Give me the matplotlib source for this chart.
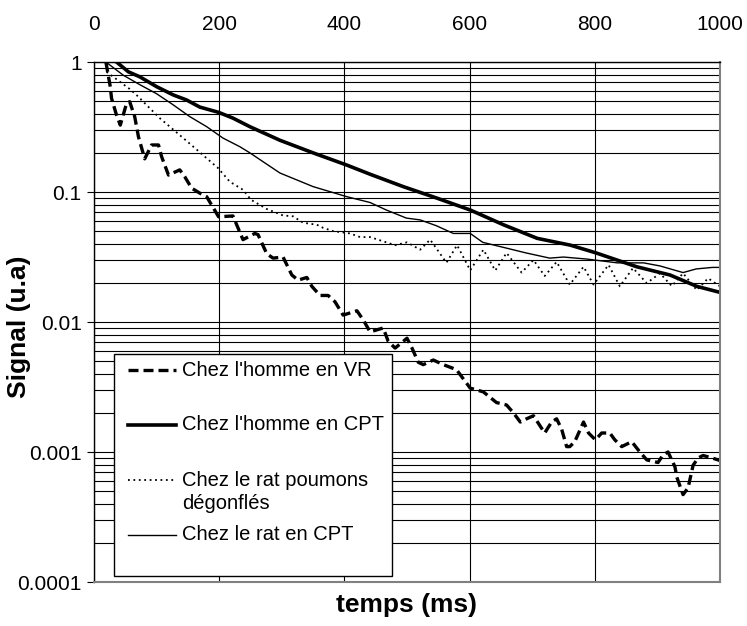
import matplotlib
matplotlib.use('Agg')
import matplotlib.pyplot as plt
from matplotlib.lines import Line2D
from matplotlib.patches import Rectangle

plt.rcParams['font.family'] = ['Liberation Sans', 'DejaVu Sans']

# ========== Data ==========
# Chez l'homme en VR (dashed, thick)
t_vr = [19, 26, 28, 36, 42, 52, 57, 65, 71, 81, 92, 103, 108, 119, 137, 145, 156, 169, 180,
        199, 222, 238, 257, 262, 276, 286, 302, 316, 326, 340, 348, 361, 374, 385, 398, 420,
        430, 441, 452, 462, 470, 481, 500, 508, 518, 526, 542, 558, 579, 601, 622, 643, 659,
        670, 681, 691, 702, 720, 731, 739, 747, 755, 760, 768, 782, 790, 801, 811, 824, 832,
        843, 859, 872, 883, 901, 909, 917, 928, 931, 941, 949, 957, 965, 973, 987, 1000]
s_vr = [1.0, 0.646, 0.526, 0.39, 0.327, 0.48, 0.495, 0.38, 0.266, 0.18, 0.23, 0.23, 0.187,
        0.135, 0.148, 0.131, 0.107, 0.098, 0.092, 0.0645, 0.0654, 0.043, 0.048, 0.047, 0.0335,
        0.031, 0.0316, 0.023, 0.021, 0.022, 0.0188, 0.016, 0.016, 0.0143, 0.0113, 0.0122,
        0.0104, 0.0084, 0.0087, 0.009, 0.0071, 0.0063, 0.0075, 0.0063, 0.0049, 0.0047, 0.0051,
        0.0047, 0.0043, 0.0031, 0.0029, 0.0024, 0.0023, 0.002, 0.0017, 0.0018, 0.0019, 0.0014,
        0.0017, 0.0018, 0.0015, 0.0011, 0.0011, 0.0012, 0.0017, 0.0014, 0.00124, 0.0014,
        0.0014, 0.00124, 0.0011, 0.0012, 0.001, 0.00087, 0.00083, 0.00095, 0.001, 0.00077,
        0.00064, 0.00047, 0.00053, 0.00079, 0.0009, 0.00094, 0.0009, 0.00086]

# Chez l'homme en CPT (solid, thick)
t_h_cpt = [36, 55, 73, 100, 127, 148, 169, 199, 222, 249, 297, 350, 404, 441, 494, 547, 601,
           654, 708, 761, 802, 867, 920, 963, 1000]
s_h_cpt = [1.0, 0.84, 0.77, 0.646, 0.557, 0.51, 0.45, 0.41, 0.37, 0.318, 0.25, 0.2, 0.161,
           0.137, 0.11, 0.09, 0.0727, 0.056, 0.044, 0.039, 0.034, 0.0266, 0.023, 0.0188, 0.0169]

# Chez le rat poumons dégonflés (dotted, thin)
t_rat_deg = [20, 57, 68, 105, 148, 198, 217, 238, 251, 276, 302, 318, 334, 356, 366, 382, 409,
             425, 441, 481, 500, 521, 537, 563, 580, 601, 622, 641, 659, 683, 702, 720, 739,
             760, 782, 798, 822, 840, 861, 883, 904, 923, 941, 963, 981, 1000]
s_rat_deg = [0.84, 0.62, 0.557, 0.37, 0.247, 0.153, 0.12, 0.104, 0.087, 0.074, 0.066, 0.065,
             0.058, 0.056, 0.053, 0.05, 0.048, 0.045, 0.045, 0.039, 0.041, 0.036, 0.043, 0.0286,
             0.039, 0.025, 0.036, 0.0249, 0.034, 0.024, 0.030, 0.0226, 0.029, 0.0194, 0.0266,
             0.0194, 0.0275, 0.0188, 0.026, 0.0199, 0.0237, 0.0189, 0.0237, 0.0176, 0.0217, 0.0188]

# Chez le rat en CPT (solid, thin)
t_rat_cpt = [19, 47, 73, 100, 126, 153, 180, 206, 233, 249, 297, 350, 404, 441, 467, 499, 521,
             547, 574, 601, 621, 659, 690, 728, 750, 787, 836, 878, 904, 941, 962, 988, 1000]
s_rat_cpt = [1.0, 0.79, 0.67, 0.57, 0.47, 0.38, 0.318, 0.26, 0.223, 0.2, 0.14, 0.11, 0.092,
             0.083, 0.0727, 0.063, 0.061, 0.055, 0.048, 0.048, 0.041, 0.037, 0.034, 0.031, 0.0316,
             0.0305, 0.0285, 0.0285, 0.027, 0.024, 0.0256, 0.0263, 0.0263]

labels = ["Chez l'homme en VR", "Chez l'homme en CPT",
          "Chez le rat poumons\ndégonflés", "Chez le rat en CPT"]

x_ticks = [0, 200, 400, 600, 800, 1000]
y_ticks = [1e-4, 1e-3, 1e-2, 1e-1, 1]
y_tick_labels = ['0.0001', '0.001', '0.01', '0.1', '1']

# ========== Figure ==========
W, H = 747, 626
fig = plt.figure(figsize=(W / 100, H / 100), dpi=100)
L, R, T, B = 94, 720, 62, 582
ax = fig.add_axes([L / W, 1 - B / H, (R - L) / W, (B - T) / H])

ax.set_yscale('log')
ax.set_xlim(0, 1000)
ax.set_ylim(1e-4, 1)

# grid: every log minor line + vertical at 200 steps
ax.set_xticks(x_ticks)
ax.set_yticks(y_ticks)
ax.set_yticklabels(y_tick_labels)
ax.grid(True, which='both', axis='y', color='black', lw=0.8)
ax.grid(True, which='major', axis='x', color='black', lw=0.8)
ax.set_axisbelow(True)

ax.tick_params(axis='x', top=False, bottom=False, labeltop=True, labelbottom=False,
               labelsize=15, pad=17)
ax.tick_params(axis='y', which='major', left=True, length=5, width=0.8, labelsize=15, pad=4)
ax.tick_params(axis='y', which='minor', left=False)

for side in ['left', 'top']:
    ax.spines[side].set_color('black')
    ax.spines[side].set_linewidth(1.0)
for side in ['right', 'bottom']:
    ax.spines[side].set_color('#808080')
    ax.spines[side].set_linewidth(1.5)

styles = [
    dict(color='black', lw=2.4, linestyle=(0, (3, 1.5))),
    dict(color='black', lw=2.6, linestyle='-'),
    dict(color='black', lw=1.3, linestyle=(0, (1, 2))),
    dict(color='black', lw=1.0, linestyle='-'),
]
series = [(t_vr, s_vr), (t_h_cpt, s_h_cpt), (t_rat_deg, s_rat_deg), (t_rat_cpt, s_rat_cpt)]
for (t, s), st in zip(series, styles):
    ax.plot(t, s, **st, clip_on=True)

ax.set_xlabel('temps (ms)', fontsize=19, fontweight='bold', labelpad=8)
ax.set_ylabel('Signal (u.a)', fontsize=19, fontweight='bold')
ax.yaxis.set_label_coords((31 - L) / (R - L), 0.49)

# ========== Legend box (Excel-like) ==========
def ax_xy(px, py):
    return (px - L) / (R - L), (B - py) / (B - T)

x0, y0 = ax_xy(114, 576)
x1, y1 = ax_xy(392, 354)
ax.add_patch(Rectangle((x0, y0), x1 - x0, y1 - y0, transform=ax.transAxes,
                       facecolor='white', edgecolor='black', lw=1.0, zorder=5))
handle_y = [370, 425, 480, 535]
text_y = [370, 425, 492, 535]
hx0, _ = ax_xy(128, 0)
hx1, _ = ax_xy(176, 0)
tx, _ = ax_xy(182, 0)
for lab, st, hy, ty in zip(labels, styles, handle_y, text_y):
    _, yy = ax_xy(0, hy)
    ax.add_line(Line2D([hx0, hx1], [yy, yy], transform=ax.transAxes, zorder=6, **st))
    _, yt = ax_xy(0, ty)
    ax.text(tx, yt, lab, transform=ax.transAxes, fontsize=14.5, va='center', ha='left',
            zorder=6, linespacing=1.3)

fig.savefig('out.png', dpi=100)
